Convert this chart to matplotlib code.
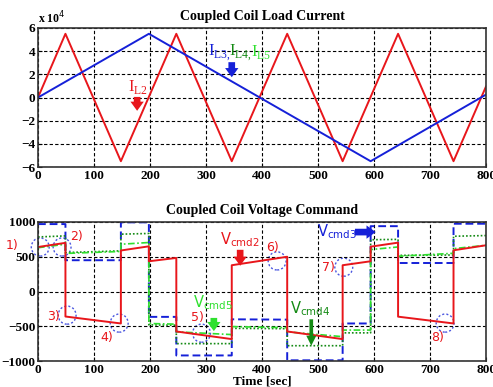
import matplotlib.pyplot as plt
from matplotlib.patches import Ellipse

# top plot: coupled coil load currents (vertices of the triangle waves)
il2_t = [0, 49, 148, 247, 346, 445, 544, 643, 742, 800]
il2 = [0, 55000, -55000, 55000, -55000, 55000, -55000, 55000, -55000, 9500]
il3_t = [0, 198, 594, 800]
il3 = [0, 55000, -55000, 2500]

# bottom plot: voltage commands, start/end value of each segment
seg_t = [0, 49, 148, 198, 247, 346, 445, 544, 594, 643, 742, 800]
vcmd2_start = [640, -360, 590, 435, -575, 378, -575, 378, 645, -362, 593]
vcmd2_end = [700, -460, 650, 483, -685, 500, -685, 435, 703, -460, 665]
vcmd3_start = [970, 450, 995, -365, -920, -400, -990, -460, 940, 410, 975]
vcmd3_end = [970, 450, 995, -365, -920, -405, -990, -460, 940, 410, 975]
vcmd4_start = [785, 560, 825, -480, -750, -530, -780, -595, 745, 520, 795]
vcmd4_end = [800, 585, 835, -485, -750, -535, -780, -595, 750, 525, 805]
vcmd5_start = [630, 548, 680, -460, -580, -505, -580, -555, 603, 507, 617]
vcmd5_end = [680, 576, 705, -470, -620, -520, -650, -555, 641, 550, 665]

xticks = [0, 100, 200, 300, 400, 500, 600, 700, 800]

RED = '#e8161b'
BLUE = '#1520d8'
DKGREEN = '#148a14'
LTGREEN = '#2ee02e'
SERIF = 'Liberation Serif'


def steps(start, end):
    xs, ys = [], []
    for i in range(len(start)):
        xs += [seg_t[i], seg_t[i + 1]]
        ys += [start[i], end[i]]
    return xs, ys


def style_axes(ax):
    ax.grid(True, color='k', linestyle=(0, (3, 2)), linewidth=0.8)
    ax.set_xlim(0, 800)
    ax.set_xticks(xticks)
    ax.tick_params(direction='in', length=3, labelsize=9.5, pad=2)
    for lab in ax.get_xticklabels() + ax.get_yticklabels():
        lab.set_fontfamily(SERIF)
        lab.set_fontweight('bold')
    for s in ax.spines.values():
        s.set_color('#333333')
        s.set_linewidth(1.2)


def fat_arrow(ax, tail, head, color, thin=False):
    style = 'simple,head_width=0.8,head_length=0.55,tail_width=0.4'
    if thin:
        style = 'simple,head_width=0.6,head_length=0.6,tail_width=0.22'
    ax.annotate('', xy=head, xytext=tail,
                arrowprops=dict(arrowstyle=style, color=color, lw=0,
                                mutation_scale=12, shrinkA=0, shrinkB=0))


fig = plt.figure(figsize=(4.93, 3.87), dpi=100)
ax1 = fig.add_axes([38 / 493, 1 - 167 / 387, 448 / 493, 139 / 387])
ax2 = fig.add_axes([38 / 493, 1 - 361 / 387, 448 / 493, 139 / 387])

# ---- top: load currents
ax1.plot(il2_t, [v / 1e4 for v in il2], color=RED, lw=1.4)
ax1.plot(il3_t, [v / 1e4 for v in il3], color=BLUE, lw=1.4)
ax1.set_ylim(-6, 6)
ax1.set_yticks([-6, -4, -2, 0, 2, 4, 6])
style_axes(ax1)
ax1.set_title('Coupled Coil Load Current', fontfamily=SERIF, fontweight='bold',
              fontsize=10, pad=6)
ax1.text(0, 1.015, r'x 10$^4$', transform=ax1.transAxes, fontfamily=SERIF,
         fontweight='bold', fontsize=8.5, ha='left', va='bottom')

ax1.text(179, 0.9, r'I$_{\mathregular{L2}}$', color=RED, fontfamily=SERIF,
         fontsize=12, ha='center', va='center')
fat_arrow(ax1, (177, 0.05), (177, -1.15), RED)
for lx, s, c in [(303, r'I$_{\mathregular{L3,}}$', BLUE),
                 (341, r'I$_{\mathregular{L4,}}$', DKGREEN),
                 (380, r'I$_{\mathregular{L5}}$', LTGREEN)]:
    ax1.text(lx, 3.9, s, color=c, fontfamily=SERIF, fontsize=12,
             ha='left', va='center')
fat_arrow(ax1, (346, 3.05), (346, 1.75), BLUE)

# ---- bottom: voltage commands
x, y = steps(vcmd3_start, vcmd3_end)
ax2.plot(x, y, color=BLUE, lw=1.4, linestyle=(0, (4, 2)))
x, y = steps(vcmd4_start, vcmd4_end)
ax2.plot(x, y, color=DKGREEN, lw=1.2, linestyle=(0, (1, 1.2)))
x, y = steps(vcmd5_start, vcmd5_end)
ax2.plot(x, y, color=LTGREEN, lw=1.2, linestyle=(0, (4, 1.5, 1, 1.5)))
x, y = steps(vcmd2_start, vcmd2_end)
ax2.plot(x, y, color=RED, lw=1.4)
ax2.set_ylim(-1000, 1000)
ax2.set_yticks([-1000, -500, 0, 500, 1000])
style_axes(ax2)
ax2.set_title('Coupled Coil Voltage Command', fontfamily=SERIF, fontweight='bold',
              fontsize=10, pad=6)
ax2.set_xlabel('Time [sec]', fontfamily=SERIF, fontweight='bold', fontsize=9.5,
               labelpad=0)

# numbered circles
circles = [(4, 640), (43, 640), (52, -340), (145, -455), (292, -600), (427, 440),
           (546, 350), (727, -455)]
labels = [(-46, 660, '1)'), (68, 785, '2)'), (27, -365, '3)'), (123, -655, '4)'),
          (284, -380, '5)'), (418, 640, '6)'), (518, 350, '7)'), (714, -655, '8)')]
for cx, cy in circles:
    ax2.add_patch(Ellipse((cx, cy), 32, 260, fill=False, edgecolor='#4a56e0',
                          linestyle=(0, (1.5, 1.5)), lw=1.0, clip_on=False))
for lx, ly, s in labels:
    ax2.text(lx, ly, s, color=RED, fontsize=9, ha='center', va='center',
             clip_on=False)

ax2.text(361, 740, r'V$_{\mathregular{cmd2}}$', color=RED, fontsize=10.5,
         ha='center', va='center')
fat_arrow(ax2, (361, 600), (361, 370), RED)
ax2.text(313, -165, r'V$_{\mathregular{cmd5}}$', color=LTGREEN, fontsize=10.5,
         ha='center', va='center')
fat_arrow(ax2, (314, -380), (314, -570), LTGREEN)
ax2.text(486, -240, r'V$_{\mathregular{cmd4}}$', color=DKGREEN, fontsize=10.5,
         ha='center', va='center')
fat_arrow(ax2, (488, -400), (488, -780), DKGREEN, thin=True)
ax2.text(534, 855, r'V$_{\mathregular{cmd3}}$', color=BLUE, fontsize=10.5,
         ha='center', va='center')
fat_arrow(ax2, (566, 855), (603, 855), BLUE)

fig.savefig('out.png', dpi=100)
